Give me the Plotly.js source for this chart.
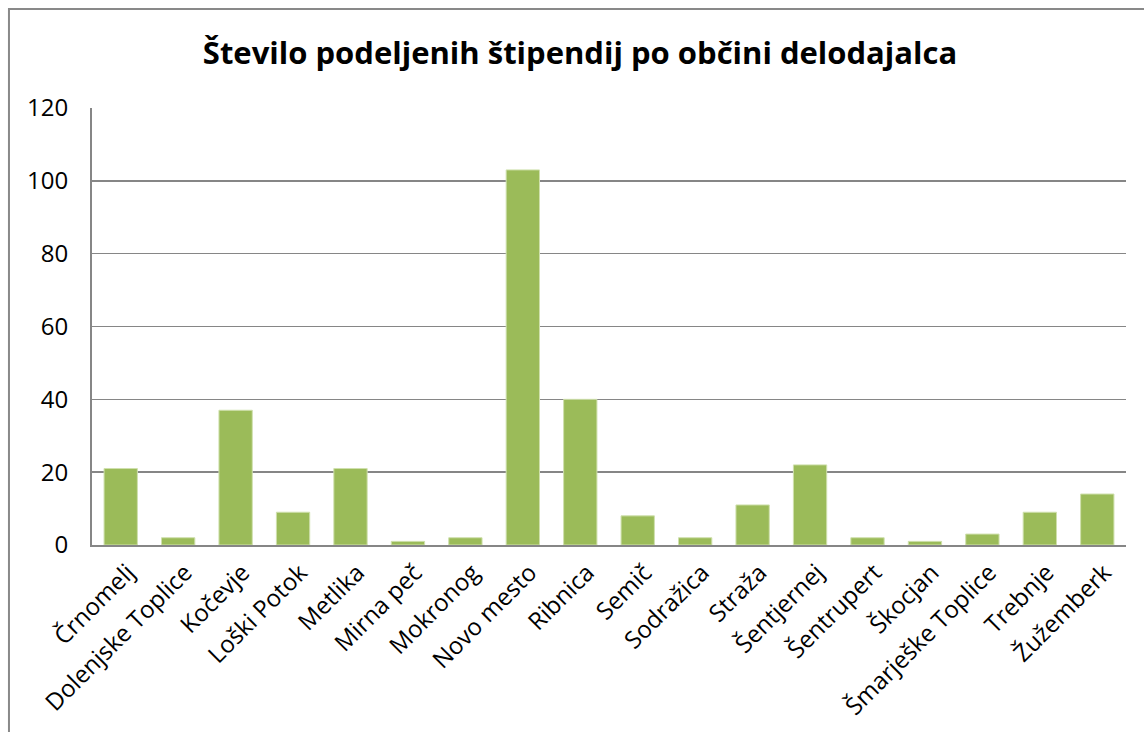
<!DOCTYPE html>
<html>
<head>
<meta charset="utf-8">
<script src="https://cdn.plot.ly/plotly-3.0.1.min.js"></script>
<style>html,body{margin:0;padding:0;background:#fff;}#chart{width:1144px;height:732px;}</style>
</head>
<body>
<div id="chart"></div>
<script>
const categories = ["Črnomelj","Dolenjske Toplice","Kočevje","Loški Potok","Metlika","Mirna peč","Mokronog","Novo mesto","Ribnica","Semič","Sodražica","Straža","Šentjernej","Šentrupert","Škocjan","Šmarješke Toplice","Trebnje","Žužemberk"];
const values = [21,2,37,9,21,1,2,103,40,8,2,11,22,2,1,3,9,14];
const yTicks = [0,20,40,60,80,100,120];

const FONT = "'Open Sans', 'Noto Sans', sans-serif";
const trace = {
  type: 'bar', x: categories, y: values,
  marker: {color: '#9BBB59', line: {color: '#cfe0ad', width: 1}},
  hoverinfo: 'x+y'
};
const layout = {
  width: 1144, height: 732,
  margin: {l: 92, r: 18, t: 108, b: 187},
  paper_bgcolor: '#fff', plot_bgcolor: '#fff',
  showlegend: false,
  bargap: 0.42,
  title: {text: '<b>Število podeljenih štipendij po občini delodajalca</b>', font: {family: FONT, size: 31, color: '#000'}, x: 0.507, xanchor: 'center', y: 0.928, yanchor: 'middle'},
  xaxis: {type: 'category', tickangle: -45, tickfont: {family: FONT, size: 24, color: '#000'}, showline: true, linecolor: '#868686', linewidth: 2, ticks: '', showgrid: false, automargin: false, ticklabelshift: 7, ticklabelstandoff: 2},
  yaxis: {range: [0, 120], tickvals: yTicks, ticktext: yTicks.map(String), tickfont: {family: FONT, size: 24, color: '#000'}, showline: true, linecolor: '#868686', linewidth: 2, gridcolor: '#868686', gridwidth: 1.5, zeroline: false, ticks: '', ticklabelstandoff: 17, automargin: false},
  shapes: [{type: 'rect', xref: 'paper', yref: 'paper', x0: -0.0803, x1: 1.2, y0: -0.6, y1: 1.2265, line: {color: '#898989', width: 2}, fillcolor: 'rgba(0,0,0,0)', layer: 'below'}]
};
Plotly.newPlot('chart', [trace], layout, {displayModeBar: false, staticPlot: true});
</script>
</body>
</html>
